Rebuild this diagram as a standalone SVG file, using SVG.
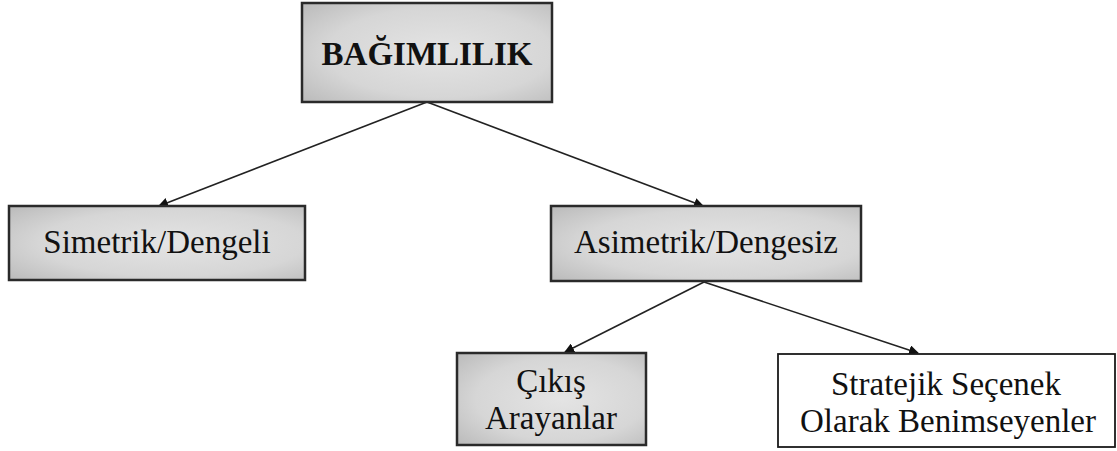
<svg xmlns="http://www.w3.org/2000/svg" width="1117" height="451" viewBox="0 0 1117 451">
  <style>
    .box { stroke: #2a2a2a; stroke-width: 2.5; fill: url(#grayFill); }
    .plain { stroke: #1a1a1a; stroke-width: 1.8; fill: #ffffff; }
    .lbl { font-family: 'Liberation Serif', 'Times New Roman', Times, 'DejaVu Serif', serif; font-size: 33px; fill: #111; text-anchor: middle; }
    .title { font-weight: bold; }
    .edge { stroke: #222; stroke-width: 1.6; fill: none; marker-end: url(#arrow); }
  </style>
  <defs>
    <radialGradient id="grayFill" cx="0.55" cy="0.5" r="0.75">
      <stop offset="0" stop-color="#e4e4e4"/>
      <stop offset="0.6" stop-color="#d6d6d6"/>
      <stop offset="1" stop-color="#b9b9b9"/>
    </radialGradient>
    <marker id="arrow" viewBox="0 0 10 10" refX="9" refY="5" markerWidth="10" markerHeight="10" markerUnits="userSpaceOnUse" orient="auto">
      <path d="M0,0 L10,5 L0,10 z" fill="#111"/>
    </marker>
  </defs>

  <g id="connectors">
    <line class="edge" x1="427" y1="102" x2="159" y2="206"/>
    <line class="edge" x1="427" y1="102" x2="703" y2="206"/>
    <line class="edge" x1="704" y1="282" x2="565" y2="352"/>
    <line class="edge" x1="704" y1="282" x2="918" y2="353"/>
  </g>

  <g id="node-bagimlilik">
    <rect class="box" x="302" y="3" width="250" height="99"/>
    <text class="lbl title" x="427" y="65">BAĞIMLILIK</text>
  </g>

  <g id="node-simetrik">
    <rect class="box" x="9" y="206" width="296" height="74"/>
    <text class="lbl" x="157" y="253">Simetrik/Dengeli</text>
  </g>

  <g id="node-asimetrik">
    <rect class="box" x="551" y="206" width="310" height="75"/>
    <text class="lbl" x="706" y="253">Asimetrik/Dengesiz</text>
  </g>

  <g id="node-cikis">
    <rect class="box" x="457" y="353" width="189" height="92"/>
    <text class="lbl" x="551" y="392">Çıkış</text>
    <text class="lbl" x="551" y="429">Arayanlar</text>
  </g>

  <g id="node-stratejik">
    <rect class="plain" x="778" y="354" width="337" height="93"/>
    <text class="lbl" x="946" y="395">Stratejik Seçenek</text>
    <text class="lbl" x="948" y="432">Olarak Benimseyenler</text>
  </g>
</svg>
